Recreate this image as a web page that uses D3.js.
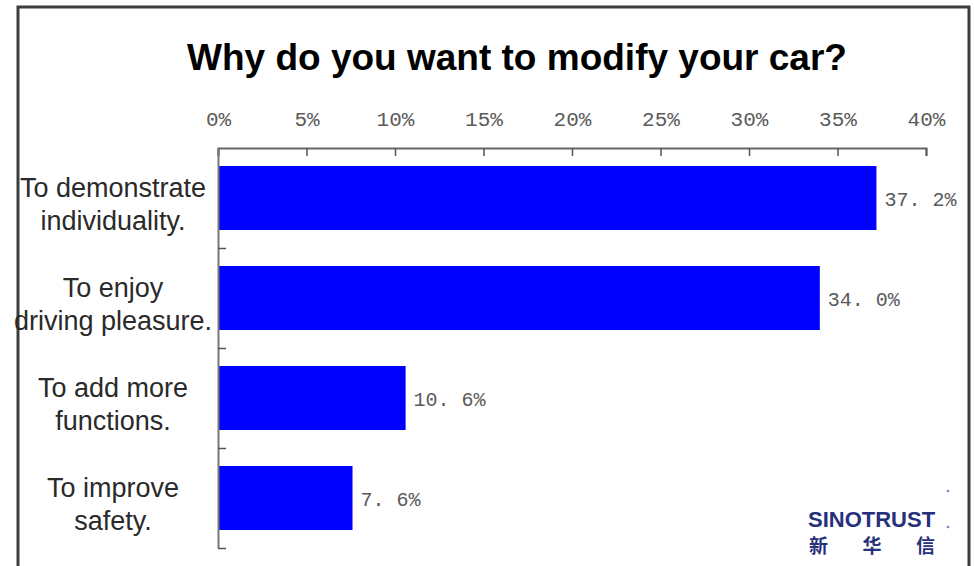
<!DOCTYPE html>
<html>
<head>
<meta charset="utf-8">
<script src="https://cdn.jsdelivr.net/npm/d3@7"></script>
<style>
  html, body { margin: 0; padding: 0; background: #ffffff; }
  svg { display: block; }
</style>
</head>
<body>
<svg id="chart" width="974" height="566"></svg>
<script>
// Survey answers and their shares (%)
const categories = [
  ["To demonstrate", "individuality."],
  ["To enjoy", "driving pleasure."],
  ["To add more", "functions."],
  ["To improve", "safety."]
];
const shares = [37.2, 34.0, 10.6, 7.6];
const tickValues = [0, 5, 10, 15, 20, 25, 30, 35, 40];
const titleText = "Why do you want to modify your car?";
const brandName = "SINOTRUST";
const brandChars = ["新", "华", "信"];

const svg = d3.select("#chart");
const W = 974, H = 566;

// Outer frame (runs off the bottom edge)
svg.append("path")
  .attr("d", `M18,${H + 5} V7 H969 V${H + 5}`)
  .attr("fill", "none")
  .attr("stroke", "#3d3d3d")
  .attr("stroke-width", 3);

// Title
svg.append("text")
  .attr("x", 517)
  .attr("y", 70)
  .attr("text-anchor", "middle")
  .attr("font-family", "Liberation Sans, Arial, sans-serif")
  .attr("font-weight", "bold")
  .attr("font-size", 37)
  .attr("fill", "#000")
  .text(titleText);

const plot = { left: 218, right: 926, top: 148, bottom: 548 };

const x = d3.scaleLinear().domain([0, 40]).range([plot.left, plot.right]);
const keys = categories.map(c => c.join(" "));
const y = d3.scaleBand()
  .domain(keys)
  .range([plot.top, plot.bottom])
  .paddingInner(0.36)
  .paddingOuter(0.18);

// Bars
svg.append("g").selectAll("rect")
  .data(shares)
  .join("rect")
  .attr("x", x(0) + 1)
  .attr("y", (d, i) => y(keys[i]))
  .attr("width", d => x(d) - x(0) - 1)
  .attr("height", y.bandwidth())
  .attr("fill", "#0000ff");

// Top value axis with downward ticks
const xAxis = d3.axisTop(x)
  .tickValues(tickValues)
  .tickFormat(d => d + "%")
  .tickSizeInner(-8)
  .tickSizeOuter(-8)
  .tickPadding(22);

const gx = svg.append("g")
  .attr("transform", `translate(0,${plot.top})`)
  .call(xAxis);
gx.select(".domain").attr("stroke", "#666").attr("stroke-width", 2);
gx.selectAll(".tick line").attr("stroke", "#555").attr("stroke-width", 1.5);
gx.selectAll(".tick text")
  .attr("font-family", "Liberation Mono, Courier New, monospace")
  .attr("font-size", 21)
  .attr("fill", "#5a5a5a");

// Left category axis: ticks sit on the boundaries between bars
const slot = d3.scaleLinear().domain([0, keys.length]).range([plot.top, plot.bottom]);
const yAxis = d3.axisLeft(slot)
  .tickValues(d3.range(1, keys.length + 1))
  .tickFormat("")
  .tickSizeInner(-8)
  .tickSizeOuter(0);
const gy = svg.append("g")
  .attr("transform", `translate(${plot.left},0)`)
  .call(yAxis);
gy.select(".domain").attr("stroke", "#777").attr("stroke-width", 2);
gy.selectAll(".tick line").attr("stroke", "#555").attr("stroke-width", 1.5);

// Category labels, two lines each
const labels = svg.append("g")
  .attr("font-family", "Liberation Sans, Arial, sans-serif")
  .attr("font-size", 27)
  .attr("fill", "#2a2a2a")
  .attr("text-anchor", "middle");
categories.forEach((lines, i) => {
  const cy = y(keys[i]) + y.bandwidth() / 2;
  const t = labels.append("text").attr("x", 113).attr("y", cy - 1);
  lines.forEach((line, j) => {
    t.append("tspan").attr("x", 113).attr("dy", j === 0 ? 0 : 33).text(line);
  });
});

// Value labels
svg.append("g").selectAll("text")
  .data(shares)
  .join("text")
  .attr("x", d => x(d) + 8)
  .attr("y", (d, i) => y(keys[i]) + y.bandwidth() / 2 + 8)
  .attr("font-family", "Liberation Mono, Courier New, monospace")
  .attr("font-size", 20)
  .attr("fill", "#5a5a5a")
  .text(d => d.toFixed(1).replace(".", ". ") + "%");

// Brand mark
const brand = svg.append("g").attr("fill", "#27307a");
brand.append("text")
  .attr("x", 808)
  .attr("y", 527)
  .attr("font-family", "Liberation Sans, Arial, sans-serif")
  .attr("font-weight", "bold")
  .attr("font-size", 22)
  .text(brandName);
brandChars.forEach((ch, i) => {
  brand.append("text")
    .attr("x", 809 + i * 53.5)
    .attr("y", 553)
    .attr("font-family", "Noto Sans CJK SC, sans-serif")
    .attr("font-weight", "bold")
    .attr("font-size", 19)
    .text(ch);
});
[491, 527].forEach(cy => {
  brand.append("circle").attr("cx", 948).attr("cy", cy).attr("r", 1.3).attr("fill", "#7a86b8");
});
</script>
</body>
</html>
